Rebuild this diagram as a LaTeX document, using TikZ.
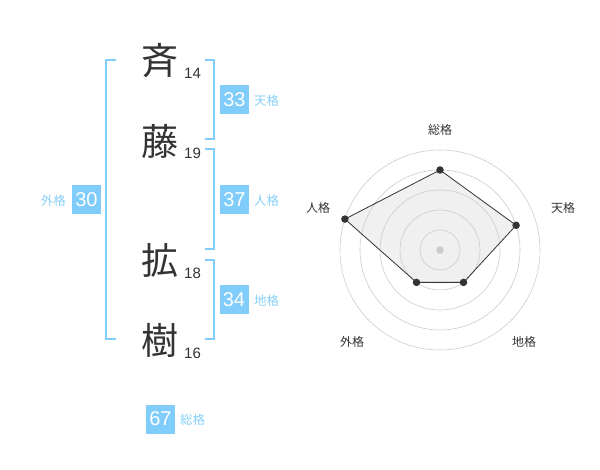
\documentclass[tikz,border=0pt]{standalone}
\usepackage{fontspec}
\setmainfont{Liberation Sans}
\newfontfamily\jp{Noto Sans CJK JP}
\definecolor{bl}{HTML}{80CCFA}
\definecolor{lbl}{HTML}{88CFF8}
\definecolor{ink}{HTML}{333333}
\definecolor{ring}{HTML}{CCCCCC}
\definecolor{area}{HTML}{F0F0F0}
\tikzset{
  kanji/.style={inner sep=0, text=ink, font=\jp\fontsize{37}{37}\selectfont},
  strokes/.style={inner sep=0, anchor=west, text=ink, font=\fontsize{15}{15}\selectfont},
  numbox/.style={inner sep=0, fill=bl, text=white, minimum width=29, minimum height=29, font=\fontsize{20}{20}\selectfont},
  kakulbl/.style={inner sep=0, text=lbl, font=\jp\fontsize{12.5}{13}\selectfont},
  bracket/.style={draw=bl, line width=2},
  ringc/.style={draw=ring, line width=0.6},
  radarlbl/.style={inner sep=0, text=ink, font=\jp\fontsize{12}{12}\selectfont},
  dot/.style={circle, fill=ink, inner sep=0, minimum size=7.5},
}
\begin{document}
\begin{tikzpicture}[x=1pt,y=-1pt]
\useasboundingbox (0,0) rectangle (600,470);
% characters
\node[kanji] (k1) at (160,61) {斉};
\node[kanji] (k2) at (160,141) {藤};
\node[kanji] (k3) at (160,260) {拡};
\node[kanji] (k4) at (160,340) {樹};
\node[strokes] (s1) at (184,73) {14};
\node[strokes] (s2) at (184,153) {19};
\node[strokes] (s3) at (184,273) {18};
\node[strokes] (s4) at (184,353) {16};
% brackets
\draw[bracket] (116,60) -- (106,60) -- (106,339) -- (116,339);
\draw[bracket] (205,60) -- (214,60) -- (214,139) -- (205,139);
\draw[bracket] (205,149) -- (214,149) -- (214,249) -- (205,249);
\draw[bracket] (205,260) -- (214,260) -- (214,339) -- (205,339);
% number boxes
\node[numbox] (ten) at (234.5,100) {33};
\node[kakulbl, anchor=west] (tenl) at (254,101) {天格};
\node[numbox] (jin) at (234.5,200) {37};
\node[kakulbl, anchor=west] (jinl) at (254,201) {人格};
\node[numbox] (chi) at (234,300) {34};
\node[kakulbl, anchor=west] (chil) at (254,301) {地格};
\node[numbox] (gai) at (86.5,200) {30};
\node[kakulbl, anchor=east] (gail) at (66,201) {外格};
\node[numbox] (sou) at (160.5,419) {67};
\node[kakulbl, anchor=west] (soul) at (180,420) {総格};
% radar
\coordinate (c) at (440,250);
\coordinate (p1) at (440,170);
\coordinate (p2) at (516.1,225.3);
\coordinate (p3) at (463.5,282.4);
\coordinate (p4) at (416.5,282.4);
\coordinate (p5) at (344.9,219.1);
\fill[area] (p1) -- (p2) -- (p3) -- (p4) -- (p5) -- cycle;
\foreach \r in {20,40,60,80,100} \draw[ringc] (c) circle[radius=\r];
\fill[ring] (c) circle[radius=3.8];
\draw[ink, line width=0.8] (p1) -- (p2) -- (p3) -- (p4) -- (p5) -- cycle;
\foreach \p in {p1,p2,p3,p4,p5} \node[dot] at (\p) {};
\node[radarlbl] (r1) at (440,130) {総格};
\node[radarlbl] (r2) at (563,208) {天格};
\node[radarlbl] (r3) at (524,342) {地格};
\node[radarlbl] (r4) at (352,342) {外格};
\node[radarlbl] (r5) at (318,208) {人格};
\end{tikzpicture}
\end{document}
